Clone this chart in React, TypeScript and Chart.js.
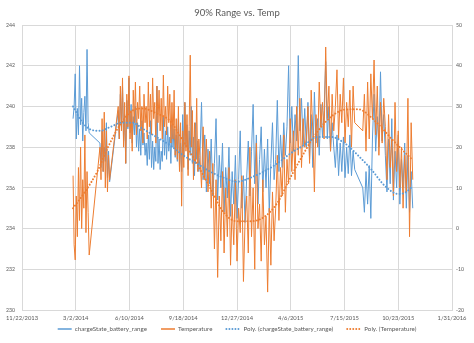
import React, { useEffect, useRef } from 'react';
import { Chart, registerables } from 'chart.js';

Chart.register(...registerables);

const BLUE = '#5B9BD5';
const ORANGE = '#ED7D31';
const TEXT = '#595959';
const GRID = '#D9D9D9';

// x values: days since 11/22/2013
const dateTicks = ['11/22/2013', '3/2/2014', '6/10/2014', '9/18/2014', '12/27/2014', '4/6/2015', '7/15/2015', '10/23/2015', '1/31/2016'];

const sampleDays = [
  95, 97, 99, 101, 103, 105, 107, 109, 111, 113, 115, 117, 119, 121, 123, 125,
  145, 147, 149, 151, 153, 155, 157, 159, 161, 163,
  179, 181, 183, 185, 187, 189, 191, 193, 195, 197, 199, 201, 203, 205, 207, 209, 211, 213, 215, 217, 219, 221, 223, 225, 227, 229,
  231, 233, 235, 237, 239, 241, 243, 245, 247, 249, 251, 253, 255, 257, 259, 261, 263, 265, 267, 269, 271, 273, 275, 277, 279, 281, 283, 285,
  287, 289, 291, 293, 295, 297, 299, 301, 303, 305, 307, 309, 311, 313, 315, 317, 319, 321, 323, 325, 327, 329,
  331, 334, 337, 340, 343, 346, 349, 352, 355, 358, 361, 364, 367, 370, 373, 376, 379, 382, 385, 388, 391, 394, 397, 400, 403, 406, 409, 412, 415,
  418, 421, 424, 427, 430, 433, 436, 439, 442, 445, 448, 451, 454, 457, 460, 463, 466, 469,
  472, 475, 478, 481, 484, 487, 490, 493, 496, 499, 502, 505, 508, 511, 514, 517, 520, 523, 526,
  529, 532, 535, 538, 541, 544, 547, 550, 553, 556, 559, 562, 565, 568, 571, 574, 577, 580, 583, 586, 589, 592, 595, 598, 601, 604, 607, 610, 613, 616, 619,
  634, 637, 640, 643, 646, 649, 652, 655, 658, 661, 664, 667, 670, 673,
  676, 679, 682, 685, 688, 691, 694, 697, 700, 703, 706, 709, 712, 715, 718, 721, 724, 727,
];

const rangeValues = [
  239.4, 240.0, 241.6, 238.4, 239.9, 238.6, 242.0, 239.1, 240.4, 238.3, 239.7, 240.5, 238.8, 242.8, 239.2, 238.7,
  238.2, 237.0, 238.8, 236.8, 238.0, 237.3, 239.2, 236.5, 237.8, 236.3,
  239.8, 238.4, 240.6, 239.0, 241.0, 238.3, 239.6, 237.2, 240.3, 238.9, 241.4, 238.7, 240.1, 238.2, 239.5, 238.6, 240.0, 238.0, 239.2, 237.8, 238.9, 237.6, 239.3, 238.1, 238.7, 237.6,
  238.2, 237.1, 238.6, 237.4, 239.3, 237.0, 238.3, 236.9, 238.0, 237.3, 241.0, 237.2, 238.4, 236.9, 237.8, 237.3, 239.5, 237.6, 238.8, 237.4, 239.0, 237.8, 238.5, 237.2, 239.1, 238.0, 238.9, 237.5,
  238.6, 237.3, 239.4, 237.0, 238.2, 236.8, 239.6, 237.5, 240.2, 238.0, 239.1, 236.9, 238.8, 237.6, 240.0, 237.2, 238.5, 236.6, 239.2, 237.4, 238.3, 236.8,
  237.5, 240.2, 236.4, 238.6, 235.8, 237.9, 236.2, 238.4, 235.6, 237.2, 239.4, 235.4, 237.6, 236.0, 238.2, 234.8, 237.0, 235.5, 238.0, 234.6, 236.8, 235.2, 237.6, 234.5, 236.4, 238.8, 235.0, 236.6, 234.3,
  236.5, 238.3, 235.6, 237.8, 240.1, 236.2, 238.6, 235.2, 237.4, 239.0, 235.8, 237.9, 236.0, 238.4, 234.8, 237.2, 239.2, 236.4,
  237.4, 240.3, 236.8, 238.6, 237.0, 239.2, 237.6, 239.0, 242.0, 238.2, 240.0, 237.8, 239.6, 238.3, 242.5, 238.8, 240.4, 238.1, 239.9,
  238.0, 240.2, 237.4, 239.6, 237.0, 240.7, 238.2, 239.4, 237.6, 240.1, 238.5, 239.8, 242.2, 238.4, 240.0, 237.8, 239.2, 238.0, 237.0, 238.6, 236.6, 238.2, 236.8, 238.5, 236.5, 238.0, 236.7, 238.6, 236.6, 237.8, 236.9,
  236.0, 234.8, 236.8, 235.2, 237.1, 234.5, 238.4, 240.6, 237.8, 239.5, 238.0, 241.7, 238.3, 239.6,
  237.6, 235.8, 238.4, 236.2, 239.4, 235.4, 237.8, 236.0, 238.6, 235.2, 237.4, 236.0, 238.2, 235.0, 237.6, 234.8, 236.8, 235.0,
];

const temperatureValues = [
  13, -4, -7.7, 8, -2, 15, 2, 20, 0, 12, 5, 23, -1, 14, 4, -6.5,
  20, 12, 27, 14, 28.6, 10, 24, 9, 18, 12,
  30, 22, 35, 24, 37, 20, 31, 16, 33, 25, 37.5, 22, 29, 19, 34, 26, 36, 23, 31, 27, 35, 24, 30, 21, 33, 26,
  30, 22, 36, 25, 33, 23, 37, 27, 31, 21, 35, 26, 34, 24, 32, 22, 37.7, 25, 30, 23, 35, 26, 33, 21, 31, 22, 34, 18,
  27, 17, 30, 14, 26, 5.5, 24, 15, 31, 19, 28, 13, 25, 42.6, 20, 29, 12, 26, 16, 32, 14, 22,
  18, 10, 25, 12, 22, 9, 19, 5, 16, -5, 12, -12, 8, -3, 14, -6, 10, -2, 15, -9, 6, -4, 12, -8, 5, -1, 13, -13, 2,
  8, -6, 20, -2, 10, -10, 21, 0, 6, -8, 12, -4, 3, -15.6, 5, -9, 9, -3,
  5, 18, 2, 15, 8, 23, 4, 17, 11, 27, 14, 24, 12, 30, 18, 32, 15, 27, 20,
  22, 30, 16, 34, 24, 9, 28, 20, 36, 25, 31, 22, 44.6, 27, 35, 19, 33, 24, 30, 39, 22, 33, 26, 37, 21, 31, 25, 34, 20, 35, 26,
  24, 33, 19, 36, 22, 38, 27, 41.4, 23, 35, 18, 31, 21, 32,
  25, 12, 28, 15, 22, 8, 31, 14, 24, 10, 20, 5, 18, 9, 32, -2, 26, 12,
];

// polynomial trendlines
const rangeTrendDays = [95, 110, 125, 145, 165, 185, 205, 225, 250, 275, 300, 325, 350, 375, 400, 425, 450, 475, 500, 525, 550, 575, 600, 625, 650, 675, 700, 715, 727];
const rangeTrend = [240.0, 239.3, 238.9, 238.8, 239.0, 239.2, 239.2, 238.9, 238.5, 238.1, 237.6, 237.2, 236.8, 236.5, 236.3, 236.5, 236.8, 237.2, 237.7, 238.1, 238.5, 238.5, 238.2, 237.6, 236.9, 236.1, 235.7, 235.8, 236.1];

const tempTrendDays = [95, 117, 140, 160, 182, 206, 225, 250, 275, 300, 325, 350, 375, 400, 425, 450, 475, 500, 520, 540, 560, 580, 600, 625, 660, 690, 727];
const tempTrend = [5, 9, 14, 20, 25.4, 29, 29.5, 28.3, 26.5, 21.5, 16, 10, 4, 1.8, 1.8, 2.8, 6.3, 12.7, 17.5, 22, 25.5, 28, 29.2, 29.3, 26, 21.7, 16.8];

const seriesLabels = ['chargeState_battery_range', 'Temperature', 'Poly. (chargeState_battery_range)', 'Poly. (Temperature)'];

const pts = (xs: number[], ys: number[]) => xs.map((x, i) => ({ x, y: ys[i] }));

const LEGEND_PAD = 14;
const LEGEND_FONT = 6.2;

// keep the legend row just under the date labels
const legendShift = {
  id: 'legendShift',
  afterLayout(chart: any) {
    const lg = chart.legend;
    if (!lg) return;
    const top = 329 - LEGEND_PAD - LEGEND_FONT / 2;
    lg.top = top;
    lg.bottom = top + lg.height;
  },
};

export default function App() {
  const ref = useRef<HTMLCanvasElement>(null);
  useEffect(() => {
    Chart.defaults.font.family = 'Lato, "Open Sans", sans-serif';
    const dotted = [0.01, 3.2];
    const chart = new Chart(ref.current as HTMLCanvasElement, {
      type: 'line',
      data: {
        datasets: [
          { label: seriesLabels[0], data: pts(sampleDays, rangeValues), yAxisID: 'y', borderColor: BLUE, backgroundColor: BLUE, borderWidth: 1, pointRadius: 0, tension: 0, order: 4 },
          { label: seriesLabels[1], data: pts(sampleDays, temperatureValues), yAxisID: 'y1', borderColor: ORANGE, backgroundColor: ORANGE, borderWidth: 1, pointRadius: 0, tension: 0, order: 3 },
          { label: seriesLabels[2], data: pts(rangeTrendDays, rangeTrend), yAxisID: 'y', borderColor: BLUE, backgroundColor: BLUE, borderWidth: 2, borderDash: dotted, borderCapStyle: 'round', pointRadius: 0, cubicInterpolationMode: 'monotone', order: 1 },
          { label: seriesLabels[3], data: pts(tempTrendDays, tempTrend), yAxisID: 'y1', borderColor: ORANGE, backgroundColor: ORANGE, borderWidth: 2, borderDash: dotted, borderCapStyle: 'round', pointRadius: 0, cubicInterpolationMode: 'monotone', order: 2 },
        ] as any,
      },
      plugins: [legendShift],
      options: {
        responsive: false,
        animation: false,
        devicePixelRatio: 1,
        events: [],
        layout: { padding: { left: 0, right: 0, top: 0, bottom: 0 } },
        plugins: {
          tooltip: { enabled: false },
          title: { display: true, text: '90% Range vs. Temp', color: TEXT, font: { size: 9.5, weight: 'normal' }, padding: { top: 7, bottom: 6.6 } },
          legend: {
            position: 'bottom',
            maxHeight: 20,
            labels: {
              usePointStyle: true,
              pointStyleWidth: 14,
              boxHeight: 6,
              padding: LEGEND_PAD,
              color: TEXT,
              font: { size: LEGEND_FONT },
              generateLabels: (c: any) => c.data.datasets.map((ds: any, i: number) => ({
                text: ds.label,
                fillStyle: ds.borderColor,
                strokeStyle: ds.borderColor,
                lineWidth: i >= 2 ? 2 : 1.5,
                lineDash: i >= 2 ? [0.01, 3] : [],
                lineCap: i >= 2 ? 'round' : 'butt',
                pointStyle: 'line',
                hidden: false,
                datasetIndex: i,
                fontColor: TEXT,
              })),
            },
          },
        },
        scales: {
          x: {
            type: 'linear',
            min: 0,
            max: 800,
            afterFit: (s: any) => { s.height = 13; },
            ticks: { stepSize: 100, autoSkip: false, maxRotation: 0, padding: 5, color: TEXT, font: { size: 5.8 }, callback: (v: any) => dateTicks[Math.round(Number(v) / 100)] },
            grid: { color: GRID, drawTicks: false },
            border: { color: GRID },
          },
          y: {
            position: 'left',
            min: 230,
            max: 244,
            afterFit: (s: any) => { s.width = 22; },
            ticks: { stepSize: 2, padding: 7, color: TEXT, font: { size: 5.2 } },
            grid: { color: GRID, drawTicks: false },
            border: { display: false },
          },
          y1: {
            position: 'right',
            min: -20,
            max: 50,
            afterFit: (s: any) => { s.width = 22; },
            ticks: { stepSize: 10, padding: 4, color: TEXT, font: { size: 5.2 } },
            grid: { drawOnChartArea: false, drawTicks: false },
            border: { display: false },
          },
        },
      } as any,
    });
    return () => chart.destroy();
  }, []);
  return (
    <div style={{ position: 'fixed', left: 0, top: 0, width: 474, height: 343, background: '#fff' }}>
      <canvas ref={ref} width={474} height={343} style={{ width: 474, height: 343 }} />
    </div>
  );
}
